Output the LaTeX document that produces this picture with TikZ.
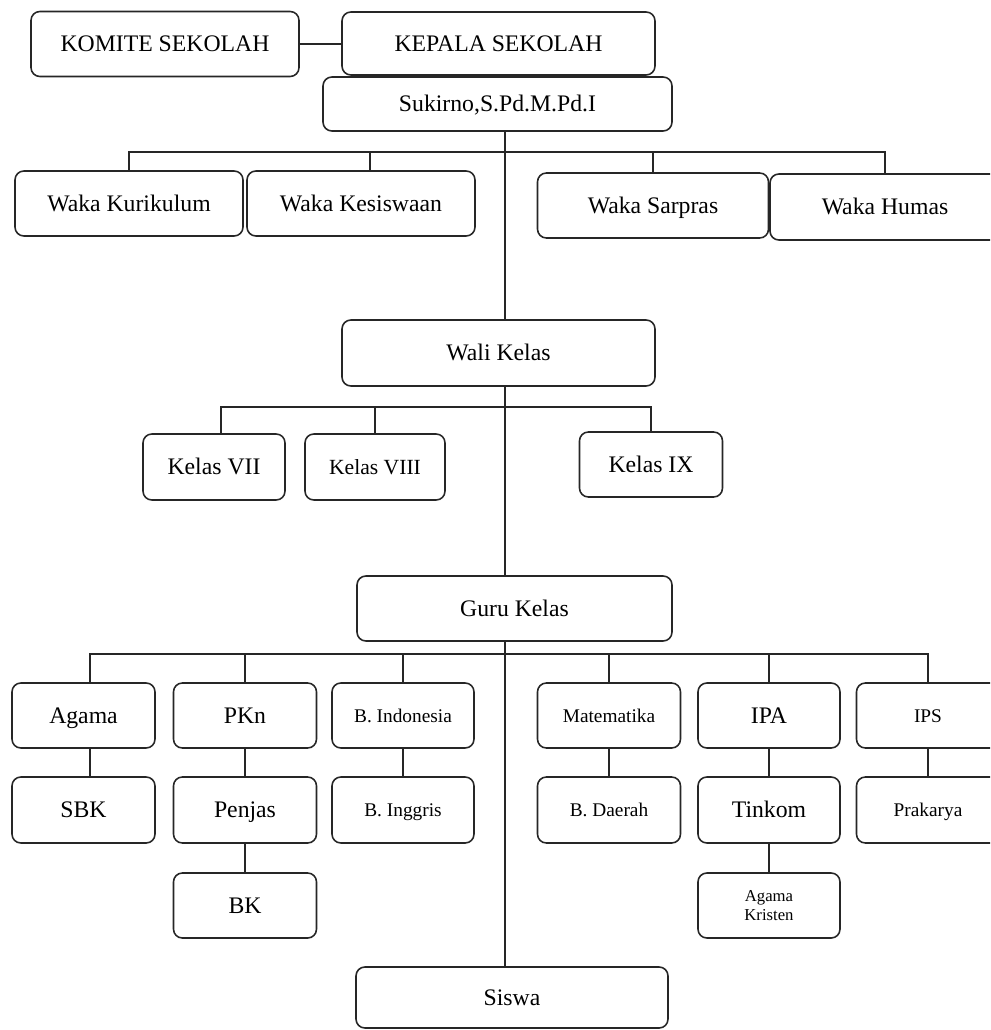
\documentclass[tikz,border=0pt]{standalone}
\usepackage{fontspec}
\setmainfont{Liberation Serif}
\tikzset{
  box/.style={draw=black!85, line width=0.9pt, rounded corners=5pt, align=center, inner sep=1pt,
    text height=11pt, text depth=2pt, font=\fontsize{13.5}{16}\selectfont},
  small/.style={font=\fontsize{11}{13}\selectfont, text height=9pt, text depth=1.5pt},
  tiny/.style={font=\fontsize{9.5}{11}\selectfont, text height=, text depth=},
  link/.style={draw=black!85, line width=1.1pt},
}

\begin{document}
\begin{tikzpicture}[x=0.02cm, y=-0.02cm]
	%%%%% START %%%%%
	\useasboundingbox (0,0) rectangle (990,1030);
	\clip (0,0) rectangle (990,1030);
	
	% pimpinan
	\node[box, minimum width=5.36cm, minimum height=1.30cm] (komite) at (165,44) {KOMITE SEKOLAH};
	\node[box, minimum width=6.26cm, minimum height=1.26cm] (kepala) at (498.5,43.5) {KEPALA SEKOLAH};
	\node[box, minimum width=6.98cm, minimum height=1.08cm] (sukirno) at (497.5,104) {Sukirno,S.Pd.M.Pd.I};
	
	% wakil kepala
	\node[box, minimum width=4.56cm, minimum height=1.30cm] (kurikulum) at (129,203.5) {Waka Kurikulum};
	\node[box, minimum width=4.56cm, minimum height=1.30cm] (kesiswaan) at (361,203.5) {Waka Kesiswaan};
	\node[box, minimum width=4.62cm, minimum height=1.30cm] (sarpras) at (653,205.5) {Waka Sarpras};
	\node[box, minimum width=4.60cm, minimum height=1.32cm] (humas) at (885,207) {Waka Humas};
	
	% wali kelas
	\node[box, minimum width=6.26cm, minimum height=1.32cm] (wali) at (498.5,353) {Wali Kelas};
	\node[box, minimum width=2.84cm, minimum height=1.32cm] (kelas7) at (214,467) {Kelas VII};
	\node[box, font=\fontsize{12.3}{14}\selectfont, minimum width=2.80cm, minimum height=1.32cm] (kelas8) at (375,467) {Kelas VIII};
	\node[box, minimum width=2.86cm, minimum height=1.30cm] (kelas9) at (651,464.5) {Kelas IX};
	
	% guru kelas
	\node[box, minimum width=6.30cm, minimum height=1.30cm] (guru) at (514.5,608.5) {Guru Kelas};
	
	\node[box, minimum width=2.86cm, minimum height=1.30cm] (agama) at (83.5,715.5) {Agama};
	\node[box, minimum width=2.86cm, minimum height=1.30cm] (pkn) at (245,715.5) {PKn};
	\node[box, small, minimum width=2.84cm, minimum height=1.30cm] (bindo) at (403,715.5) {B. Indonesia};
	\node[box, small, minimum width=2.86cm, minimum height=1.30cm] (mtk) at (609,715.5) {Matematika};
	\node[box, minimum width=2.84cm, minimum height=1.30cm] (ipa) at (769,715.5) {IPA};
	\node[box, small, minimum width=2.86cm, minimum height=1.30cm] (ips) at (928,715.5) {IPS};
	
	\node[box, minimum width=2.86cm, minimum height=1.32cm] (sbk) at (83.5,810) {SBK};
	\node[box, minimum width=2.86cm, minimum height=1.32cm] (penjas) at (245,810) {Penjas};
	\node[box, small, minimum width=2.84cm, minimum height=1.32cm] (binggris) at (403,810) {B. Inggris};
	\node[box, small, minimum width=2.86cm, minimum height=1.32cm] (bdaerah) at (609,810) {B. Daerah};
	\node[box, minimum width=2.84cm, minimum height=1.32cm] (tinkom) at (769,810) {Tinkom};
	\node[box, small, minimum width=2.86cm, minimum height=1.32cm] (prakarya) at (928,810) {Prakarya};
	
	\node[box, minimum width=2.86cm, minimum height=1.30cm] (bk) at (245,905.5) {BK};
	\node[box, tiny, minimum width=2.84cm, minimum height=1.30cm] (kristen) at (769,905.5) {Agama\\Kristen};
	
	\node[box, minimum width=6.24cm, minimum height=1.22cm] (siswa) at (512,997.5) {Siswa};
	
	% garis
	\coordinate (trunk) at (505,0);
	\coordinate (wakabus) at (505,152);
	\coordinate (kelasbus) at (505,407);
	\coordinate (gurubus) at (505,654);
	
	\draw[link] (komite.east) -- (komite.east -| kepala.west);
	\draw[link] (sukirno.south -| trunk) -- (wali.north -| trunk);
	\draw[link] (wali.south -| trunk) -- (guru.north -| trunk);
	\draw[link] (guru.south -| trunk) -- (siswa.north -| trunk);
	
	\draw[link] (kurikulum.north) |- (wakabus) -| (humas.north);
	\draw[link] ([xshift=0.18cm]kesiswaan.north) -- ([xshift=0.18cm]kesiswaan.north |- wakabus);
	\draw[link] (sarpras.north) -- (sarpras.north |- wakabus);
	
	\draw[link] ([xshift=0.14cm]kelas7.north) |- (kelasbus) -| (kelas9.north);
	\draw[link] (kelas8.north) -- (kelas8.north |- kelasbus);
	
	\draw[link] ([xshift=0.13cm]agama.north) |- (gurubus) -| (ips.north);
	\foreach \n in {pkn,bindo,mtk,ipa}
		\draw[link] (\n.north) -- (\n.north |- gurubus);
	
	\draw[link] ([xshift=0.13cm]agama.south) -- ([xshift=0.13cm]sbk.north);
	\draw[link] (pkn) -- (penjas);
	\draw[link] (penjas) -- (bk);
	\draw[link] (bindo) -- (binggris);
	\draw[link] (mtk) -- (bdaerah);
	\draw[link] (ipa) -- (tinkom);
	\draw[link] (tinkom) -- (kristen);
	\draw[link] (ips) -- (prakarya);
	
	%%%%% END %%%%%
\end{tikzpicture}
\end{document}
